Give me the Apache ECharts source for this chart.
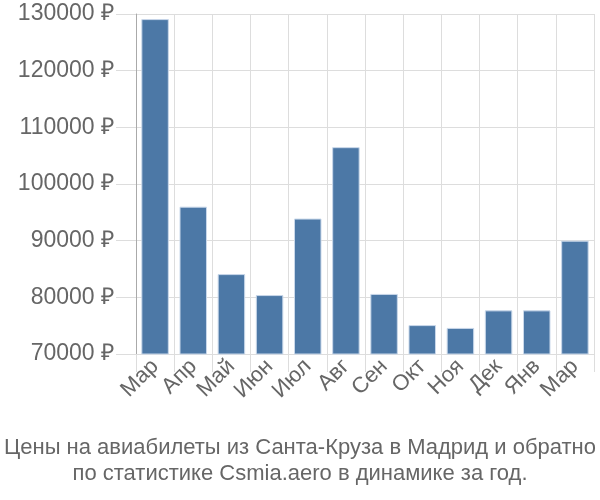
<!DOCTYPE html>
<html><head><meta charset="utf-8">
<script src="https://cdn.jsdelivr.net/npm/echarts@6/dist/echarts.min.js"></script>
<style>html,body{margin:0;padding:0;background:#fff}#c{width:600px;height:500px}</style>
</head><body><div id="c"></div>
<script>
var categories = ['Мар','Апр','Май','Июн','Июл','Авг','Сен','Окт','Ноя','Дек','Янв','Мар'];
var prices = [129100, 96000, 84100, 80400, 93900, 106500, 80600, 75100, 74600, 77700, 77700, 90000];
var yMin = 70000, yMax = 130000, yStep = 10000;
var titleText = 'Цены на авиабилеты из Санта-Круза в Мадрид и обратно\nпо статистике Csmia.aero в динамике за год.';

var chart = echarts.init(document.getElementById('c'), null, {renderer:'canvas'});
chart.setOption({
  animation:false,
  textStyle:{fontFamily:'Liberation Sans'},
  title:{text:titleText,left:'center',top:430,
    textStyle:{fontSize:22,fontWeight:'normal',color:'#666',lineHeight:26,fontFamily:'Liberation Sans'}},
  grid:{left:136,right:6,top:14,bottom:146,containLabel:false},
  xAxis:{type:'category',data:categories,
    axisLine:{show:true,lineStyle:{color:'#ddd',width:1}},
    axisTick:{show:true,length:18,lineStyle:{color:'#ddd'}},
    splitLine:{show:true,lineStyle:{color:'#ddd'}},
    axisLabel:{rotate:45,fontSize:22,color:'#666',margin:9,interval:0}},
  yAxis:{type:'value',min:yMin,max:yMax,interval:yStep,
    axisLine:{show:true,lineStyle:{color:'#aaa',width:1}},
    axisTick:{show:true,length:20,lineStyle:{color:'#ddd'}},
    splitLine:{show:true,lineStyle:{color:'#ddd'}},
    axisLabel:{formatter:function(v){return v + ' ₽';},fontSize:23,color:'#666',margin:22}},
  series:[{type:'bar',data:prices,barWidth:'72%',
    itemStyle:{color:'#4c78a6',borderColor:'#c9d8ea',borderWidth:1}}]
});
</script></body></html>
